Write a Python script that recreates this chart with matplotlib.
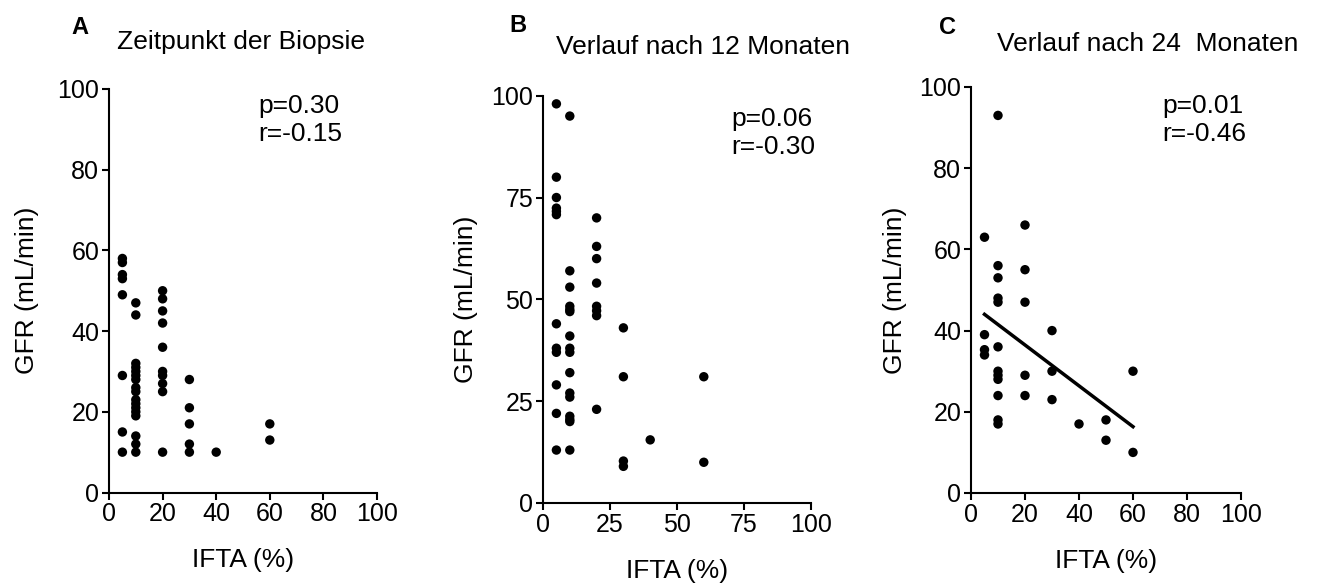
import numpy as np
import matplotlib
matplotlib.use("Agg")
import matplotlib.pyplot as plt

plt.rcParams['font.family'] = ['Liberation Sans', 'DejaVu Sans']

# Panel A - Zeitpunkt der Biopsie
a_x = [5] * 8 + [10] * 17 + [20] * 10 + [30] * 5 + [40] + [60] * 2
a_y = [58, 57, 54, 53, 49, 29, 15, 10,
       47, 44, 32, 31, 30, 29, 28, 26, 25, 23, 22, 21, 20, 19, 14, 12, 10,
       50, 48, 45, 42, 36, 30, 29, 27, 25, 10,
       28, 21, 17, 12, 10,
       10,
       17, 13]

# Panel B - 12 Monate
b_x = [5] * 12 + [10] * 16 + [20] * 8 + [30] * 4 + [40] + [60] * 2
b_y = [98, 80, 75, 72.4, 71.6, 70.8, 44, 38, 37, 29, 22, 13,
       95, 57, 53, 48.3, 47.5, 47, 41, 38, 37, 32, 27, 26, 21.3, 20.5, 20, 13,
       70, 63, 60, 54, 48.3, 47.2, 46, 23,
       43, 31, 10.3, 9,
       15.5,
       31, 10]

# Panel C - 24 Monate
c_x = [5] * 4 + [10] * 12 + [20] * 5 + [30] * 3 + [40] + [50] * 2 + [60] * 2
c_y = [63, 39, 35.3, 34,
       93, 56, 53, 48, 47, 36, 30, 29, 28, 24, 18, 17,
       66, 55, 47, 29, 24,
       40, 30, 23,
       17,
       18, 13,
       30, 10]

titles = ["Zeitpunkt der Biopsie", "Verlauf nach 12 Monaten", "Verlauf nach 24  Monaten"]
letters = ["A", "B", "C"]
stats = [("p=0.30", "r=-0.15"), ("p=0.06", "r=-0.30"), ("p=0.01", "r=-0.46")]

W, H = 1323, 588
fig = plt.figure(figsize=(W / 100, H / 100), dpi=100)

def px_axes(left, right, top, bottom):
    return fig.add_axes([left / W, (H - bottom) / H, (right - left) / W, (bottom - top) / H])

def ftext(x, y, s, **kw):
    fig.text(x / W, (H - y) / H, s, **kw)

boxes = [(109, 377, 89, 492.5), (543, 811, 95.7, 503), (971, 1241, 87, 493)]
data = [(a_x, a_y), (b_x, b_y), (c_x, c_y)]
yticks = [np.arange(0, 101, 20), np.arange(0, 101, 25), np.arange(0, 101, 20)]
xticks = [np.arange(0, 101, 20), np.arange(0, 101, 25), np.arange(0, 101, 20)]
ylabpad = [13, 10, 9]

axes = []
for i in range(3):
    ax = px_axes(*boxes[i])
    x, y = data[i]
    ax.scatter(x, y, s=46, c='black', edgecolors='none', zorder=3, clip_on=False)
    ax.set_xlim(0, 100)
    ax.set_ylim(0, 100)
    ax.set_xticks(xticks[i])
    ax.set_yticks(yticks[i])
    for sp in ['top', 'right']:
        ax.spines[sp].set_visible(False)
    for sp in ['left', 'bottom']:
        ax.spines[sp].set_linewidth(1.5)
    ax.tick_params(direction='out', length=5, width=1.5, labelsize=18, pad=2)
    ax.set_ylabel("GFR (mL/min)", fontsize=19, labelpad=ylabpad[i])
    ax.set_xlabel("IFTA (%)", fontsize=19, labelpad=16)
    axes.append(ax)

# Regressionsgerade in C
coef = np.polyfit(c_x, c_y, 1)
xl = np.array([min(c_x), max(c_x)])
axes[2].plot(xl, np.polyval(coef, xl), color='black', lw=2.5, zorder=2)

# Buchstaben, Titel, Statistik
letter_pos = [(71, 34), (509, 32), (939, 34)]
title_pos = [(117, 49), (556, 54), (997, 51)]
p_pos = [(258, 113), (731, 126), (1162, 113)]
for i in range(3):
    ftext(*letter_pos[i], letters[i], fontsize=17, fontweight='bold', va='baseline')
    ftext(*title_pos[i], titles[i], fontsize=19, va='baseline')
    ftext(p_pos[i][0], p_pos[i][1], stats[i][0], fontsize=19, va='baseline')
    ftext(p_pos[i][0], p_pos[i][1] + 28, stats[i][1], fontsize=19, va='baseline')

fig.savefig("out.png", dpi=100)
